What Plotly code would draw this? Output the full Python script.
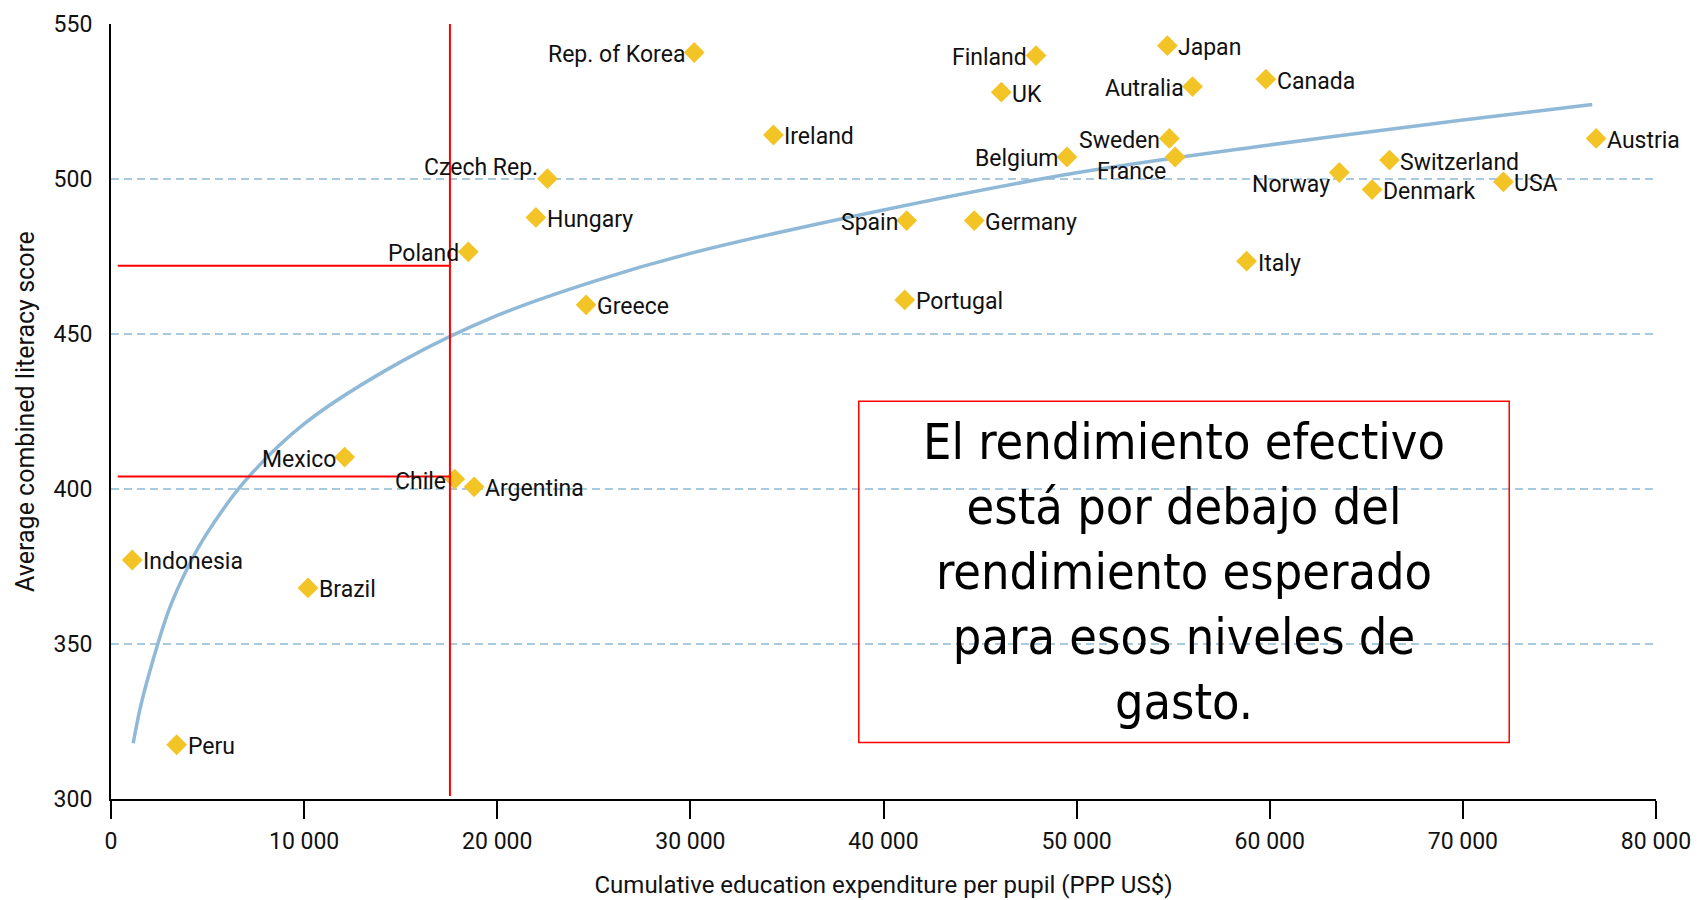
import plotly.graph_objects as go

# ---------------- data ----------------
countries = ["Rep. of Korea", "Finland", "Japan", "UK", "Autralia", "Canada", "Ireland",
             "Sweden", "France", "Belgium", "Czech Rep.", "Norway", "Switzerland", "Denmark",
             "USA", "Austria", "Hungary", "Spain", "Germany", "Poland", "Italy", "Greece",
             "Portugal", "Mexico", "Chile", "Argentina", "Indonesia", "Brazil", "Peru"]
spend = [30200, 47900, 54700, 46100, 56000, 59800, 34300,
         54800, 55100, 49500, 22600, 63600, 66200, 65300,
         72100, 76900, 22000, 41200, 44700, 18500, 58800, 24600,
         41100, 12100, 17800, 18800, 1100, 10200, 3400]
score = [540.8, 539.8, 543, 528, 529.8, 532.2, 514.2,
         513.1, 507.1, 507.1, 500.1, 502.1, 506.1, 496.6,
         499.1, 513.1, 487.6, 486.6, 486.6, 476.5, 473.5, 459.4,
         461, 410.3, 403.2, 400.7, 377.1, 368.1, 317.5]

# trend curve
trend_x = [1150, 1500, 2000, 3000, 4000, 5000, 7000, 10000, 15000, 20000,
           25000, 30000, 40000, 50000, 60000, 70000, 76700]
trend_y = [318, 329, 341, 361, 375, 386, 403, 421, 441, 456,
           467, 476, 490, 502, 511, 519, 524]

x_tick_vals = [0, 10000, 20000, 30000, 40000, 50000, 60000, 70000, 80000]
x_tick_text = ["0", "10 000", "20 000", "30 000", "40 000", "50 000", "60 000", "70 000", "80 000"]
y_tick_vals = [300, 350, 400, 450, 500, 550]

ref_line_x = 17550
ref_line_y = [472, 404]
ref_line_start = 350

box_x = [38720, 72400]
box_y = [318.2, 428.3]
box_text = "El rendimiento efectivo<br>está por debajo del<br>rendimiento esperado<br>para esos niveles de<br>gasto."

# ---------------- label styling ----------------
label_side = ["l", "l", "r", "r", "l", "r", "r",
              "l", "l", "l", "l", "l", "r", "r",
              "r", "r", "r", "l", "r", "l", "r", "r",
              "r", "l", "l", "r", "r", "r", "r"]
label_dy = [-2, -2, -2, -2, -2, -2, -2,
            -2, -15, -2, 11, -12, -2, -2,
            -2, -2, -2, -2, -2, -2, -2, -2,
            -2, -2, -2, -2, -2, -2, -2]

LABEL_FONT = "Roboto, Liberation Sans, sans-serif"

fig = go.Figure()

fig.add_trace(go.Scatter(
    x=trend_x, y=trend_y, mode="lines",
    line=dict(color="#8fb9d6", width=3.5, shape="spline", smoothing=1.0),
    hoverinfo="skip", showlegend=False))

fig.add_trace(go.Scatter(
    x=spend, y=score, mode="markers", text=countries,
    marker=dict(symbol="diamond", size=16, color="#f3c425", line=dict(width=0)),
    showlegend=False))

annotations = []
for name, xv, yv, side, dy in zip(countries, spend, score, label_side, label_dy):
    annotations.append(dict(
        x=xv, y=yv, text=name, showarrow=False,
        xanchor="right" if side == "l" else "left",
        xshift=-7 if side == "l" else 9, yshift=dy,
        font=dict(family=LABEL_FONT, size=23, color="#111111")))

annotations.append(dict(
    x=(box_x[0] + box_x[1]) / 2, y=(box_y[0] + box_y[1]) / 2, text=box_text,
    showarrow=False, xanchor="center", yanchor="middle", align="center",
    font=dict(family="DejaVu Sans Condensed, DejaVu Sans, sans-serif", size=50, color="#000000")))

shapes = [
    dict(type="line", xref="x", yref="y", x0=ref_line_x, x1=ref_line_x, y0=301, y1=550,
         line=dict(color="#ff0000", width=2)),
]
for ry in ref_line_y:
    shapes.append(dict(type="line", xref="x", yref="y", x0=ref_line_start, x1=ref_line_x,
                       y0=ry, y1=ry, line=dict(color="#ff0000", width=2)))
shapes.append(dict(type="rect", xref="x", yref="y", x0=box_x[0], x1=box_x[1],
                   y0=box_y[0], y1=box_y[1], line=dict(color="#ff0000", width=1.5),
                   fillcolor="rgba(0,0,0,0)"))

fig.update_layout(
    width=1692, height=892,
    margin=dict(l=103, r=44, t=16, b=101),
    paper_bgcolor="white", plot_bgcolor="white",
    annotations=annotations, shapes=shapes,
    font=dict(family=LABEL_FONT, color="#111111"),
    xaxis=dict(
        range=[0, 80000], tickvals=x_tick_vals, ticktext=x_tick_text,
        automargin=False,
        showgrid=False, zeroline=False, showline=True, linecolor="#000000", linewidth=2,
        ticks="outside", ticklen=18, tickwidth=2, tickcolor="#000000",
        ticklabelstandoff=2,
        tickfont=dict(family=LABEL_FONT, size=23, color="#111111"),
        title=dict(text="Cumulative education expenditure per pupil (PPP US$)",
                   font=dict(family=LABEL_FONT, size=24, color="#111111"), standoff=23),
    ),
    yaxis=dict(
        range=[300, 550], tickvals=y_tick_vals,
        automargin=False,
        showgrid=True, gridcolor="#a9c9de", gridwidth=1.5, griddash="8px,5px",
        zeroline=False, showline=True, linecolor="#000000", linewidth=2,
        ticks="", ticklabelstandoff=12,
        tickfont=dict(family=LABEL_FONT, size=23, color="#111111"),
        title=dict(text="Average combined literacy score",
                   font=dict(family=LABEL_FONT, size=25, color="#111111"), standoff=12),
    ),
)

fig.write_html("out.html")
